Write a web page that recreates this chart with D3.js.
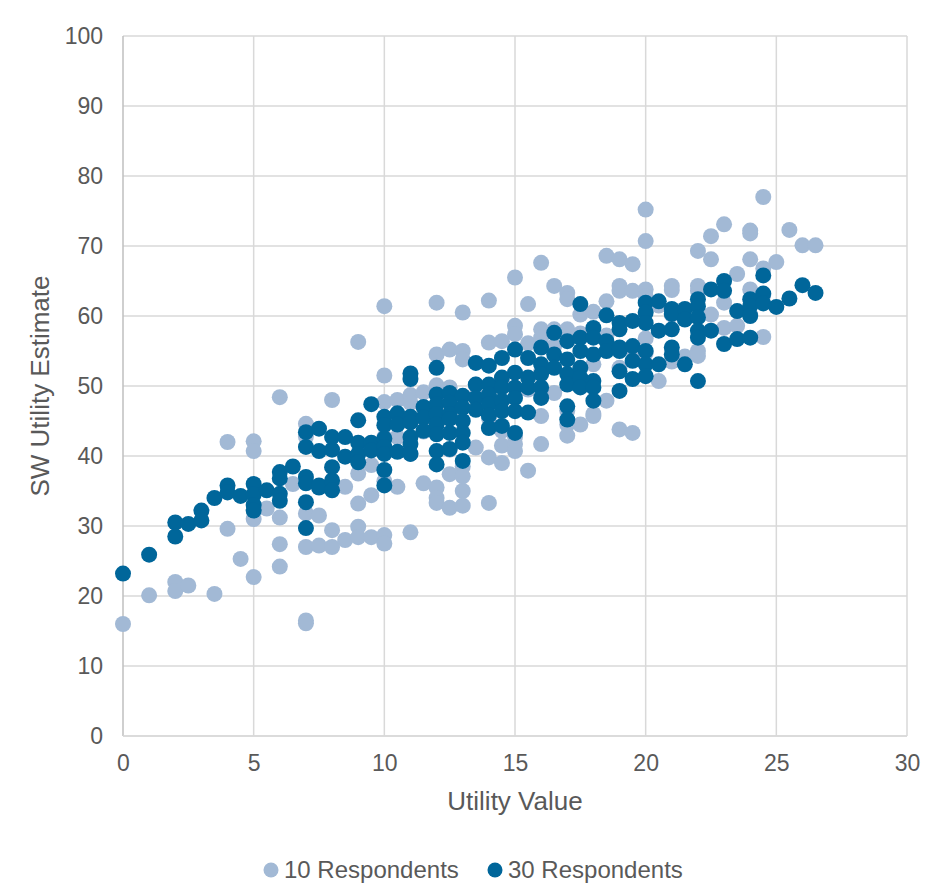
<!DOCTYPE html>
<html>
<head>
<meta charset="utf-8">
<script src="https://cdn.jsdelivr.net/npm/d3@7"></script>
<style>
  body { margin: 0; background: #fff; }
  text { font-family: "Liberation Sans", Arial, sans-serif; fill: #595959; }
</style>
</head>
<body>
<script>
// [utility value, SW utility estimate]
const resp10 = [
  [0,16],[1,20.1],[2,22],[2,20.7],[2.5,21.5],[3.5,20.3],[4,42],[4,29.6],[4.5,25.3],
  [5,42.1],[5,40.7],[5,31],[5,22.7],[5.5,32.5],
  [6,48.4],[6,31.2],[6,27.4],[6,24.2],[6.5,36],
  [7,44.6],[7,42.8],[7,36.5],[7,31.8],[7,27],[7,16.5],[7,16.1],
  [7.5,31.5],[7.5,27.2],[8,48],[8,36.2],[8,29.4],[8,27],[8.5,35.6],[8.5,28],
  [9,56.3],[9,40.3],[9,37.5],[9,33.2],[9,29.9],[9,28.4],[9.5,38.7],[9.5,34.4],[9.5,28.4],
  [10,61.4],[10,51.5],[10,47.7],[10,42.7],[10,36.4],[10,28.7],[10,27.5],
  [10.5,48],[10.5,42.7],[10.5,35.6],[11,48.7],[11,47.6],[11,40.3],[11,29.1],
  [11.5,49.1],[11.5,43.5],[11.5,36.1],
  [12,61.9],[12,54.5],[12,50.1],[12,35.5],[12,34],[12,33.3],
  [12.5,55.2],[12.5,49.8],[12.5,40.9],[12.5,37.4],[12.5,32.6],
  [13,60.5],[13,55],[13,53.8],[13,38.5],[13,37.1],[13,35],[13,32.9],
  [13.5,50.2],[13.5,48.6],[13.5,41.2],
  [14,62.2],[14,56.2],[14,48.2],[14,45.5],[14,39.8],[14,33.3],
  [14.5,56.4],[14.5,50.5],[14.5,43.6],[14.5,41.5],[14.5,39],
  [15,65.5],[15,58.6],[15,57.4],[15,42.7],[15,41.7],[15,40.7],
  [15.5,61.7],[15.5,56.1],[15.5,49.5],[15.5,37.9],
  [16,67.6],[16,58.1],[16,56.9],[16,52],[16,45.7],[16,41.7],
  [16.5,64.3],[16.5,58.1],[16.5,55.7],[16.5,49],
  [17,63.3],[17,62.4],[17,58.1],[17,46.5],[17,44.5],[17,42.9],
  [17.5,60.2],[17.5,57.5],[17.5,44.5],
  [18,60.6],[18,57.7],[18,53.1],[18,46],[18,45.7],
  [18.5,68.6],[18.5,62.1],[18.5,57.2],[18.5,47.9],
  [19,68.1],[19,64.3],[19,63.6],[19,52.6],[19,43.8],
  [19.5,67.4],[19.5,63.6],[19.5,55.3],[19.5,43.3],
  [20,75.2],[20,70.7],[20,63.8],[20,62.8],[20,56.8],[20,54.7],
  [20.5,61.5],[20.5,50.7],[21,64.3],[21,63.7],[21,60.2],[21,53.5],
  [21.5,59.7],[21.5,54.2],
  [22,69.3],[22,64.3],[22,63.6],[22,55],[22,54.3],
  [22.5,71.4],[22.5,68.1],[22.5,60.2],[23,73.1],[23,61.9],[23,58.3],
  [23.5,66],[23.5,58.6],[24,72.2],[24,71.8],[24,68.1],[24,63.8],[24,60.2],
  [24.5,77],[24.5,66.8],[24.5,63],[24.5,57],[25,67.7],[25.5,72.3],[26,70.1],[26.5,70.1]
]

const resp30 = [
  [0,23.2],[1,25.9],[2,30.5],[2,28.5],[2.5,30.3],[3,32.2],[3,30.8],[3.5,34],
  [4,35.8],[4,34.8],[4.5,34.3],[5,36],[5,34.5],[5,33],[5,32.2],[5.5,35.1],
  [6,37.7],[6,36.8],[6,34.6],[6,33.6],[6.5,38.5],
  [7,43.4],[7,41.3],[7,37],[7,36.1],[7,33.4],[7,29.7],
  [7.5,43.9],[7.5,40.7],[7.5,35.5],[7.5,35.8],
  [8,42.7],[8,40.9],[8,38.4],[8,36.5],[8,35.1],[8.5,42.7],[8.5,39.9],
  [9,45.1],[9,41.9],[9,40.3],[9,39.1],[9.5,47.4],[9.5,41.9],[9.5,40.8],
  [10,45.6],[10,44.4],[10,42.5],[10,41.3],[10,40.3],[10,38],[10,35.8],
  [10.5,46.1],[10.5,44.5],[10.5,40.6],
  [11,51.8],[11,51],[11,45.6],[11,44.8],[11,42.7],[11,41.7],[11,40.3],
  [11.5,47],[11.5,45.5],[11.5,43.6],
  [12,52.6],[12,48.8],[12,47.4],[12,46],[12,44.5],[12,43.1],[12,40.7],[12,38.8],
  [12.5,49],[12.5,47.6],[12.5,46],[12.5,45.3],[12.5,43.3],[12.5,41],
  [13,48.6],[13,46.9],[13,45],[13,43.3],[13,41.9],[13,39.3],
  [13.5,53.3],[13.5,50.2],[13.5,48.3],[13.5,46.6],
  [14,52.9],[14,50.2],[14,48.8],[14,47.4],[14,45.8],[14,44],
  [14.5,54],[14.5,51.2],[14.5,49.8],[14.5,47.9],[14.5,46.4],[14.5,44.3],
  [15,55.2],[15,51.9],[15,49.8],[15,48.3],[15,46.4],[15,43.3],
  [15.5,54],[15.5,51.2],[15.5,49.8],[15.5,46.2],
  [16,55.5],[16,53.1],[16,51.7],[16,49.8],[16,48.3],
  [16.5,57.6],[16.5,54.5],[16.5,52.6],
  [17,56.4],[17,53.8],[17,51.7],[17,50.2],[17,47.1],[17,45.2],
  [17.5,61.7],[17.5,56.9],[17.5,55],[17.5,52.6],[17.5,51.2],[17.5,49.8],
  [18,58.3],[18,56.9],[18,54.5],[18,50.7],[18,49.8],[18,47.9],
  [18.5,60.1],[18.5,56.4],[18.5,55],
  [19,59],[19,58.1],[19,55.5],[19,55],[19,52.1],[19,49.3],
  [19.5,59.3],[19.5,55.7],[19.5,53.6],[19.5,51],
  [20,61.9],[20,60.5],[20,59],[20,55],[20,53.1],[20,51.4],
  [20.5,62.1],[20.5,57.9],[20.5,53.1],
  [21,61],[21,60.3],[21,58.1],[21,55.5],[21,54.5],
  [21.5,61],[21.5,59.5],[21.5,53.1],
  [22,62.4],[22,61.4],[22,59.8],[22,57.9],[22,56.9],[22,50.7],
  [22.5,63.8],[22.5,57.9],[23,65],[23,63.6],[23,56],
  [23.5,60.7],[23.5,56.7],[24,62.4],[24,61.4],[24,60],[24,56.9],
  [24.5,65.8],[24.5,63.2],[24.5,61.8],[25,61.3],[25.5,62.5],[26,64.4],[26.5,63.3]
]

const xTicks = [0, 5, 10, 15, 20, 25, 30]
const yTicks = [0, 10, 20, 30, 40, 50, 60, 70, 80, 90, 100]
const seriesNames = ["10 Respondents", "30 Respondents"]
const seriesColors = ["#a2b9d5", "#00669a"]

const width = 926
const height = 885
const margin = {top: 36, right: 19, bottom: 149, left: 123}

const svg = d3.select("body")
  .append("svg")
  .attr("width", width)
  .attr("height", height)

const x = d3.scaleLinear().domain([0, 30]).range([margin.left, width - margin.right])
const y = d3.scaleLinear().domain([0, 100]).range([height - margin.bottom, margin.top])

// gridlines
svg.append("g")
  .selectAll("line")
  .data(yTicks)
  .join("line")
    .attr("x1", x(0)).attr("x2", x(30))
    .attr("y1", d => y(d)).attr("y2", d => y(d))
    .attr("stroke", "#d9d9d9")
    .attr("stroke-width", 1.5)

svg.append("g")
  .selectAll("line")
  .data(xTicks)
  .join("line")
    .attr("x1", d => x(d)).attr("x2", d => x(d))
    .attr("y1", y(0)).attr("y2", y(100))
    .attr("stroke", d => d === 0 ? "#bfbfbf" : "#d9d9d9")
    .attr("stroke-width", 1.5)

// axis base line
svg.append("line")
  .attr("x1", x(0)).attr("x2", x(30))
  .attr("y1", y(0)).attr("y2", y(0))
  .attr("stroke", "#d9d9d9")
  .attr("stroke-width", 1.5)

// tick labels
const xAxis = svg.append("g")
  .attr("transform", `translate(0,${y(0)})`)
  .call(d3.axisBottom(x).tickValues(xTicks).tickSize(0).tickPadding(19))
xAxis.select(".domain").remove()
xAxis.selectAll("text").style("font-size", "23px").attr("fill", "#595959")

const yAxis = svg.append("g")
  .attr("transform", `translate(${x(0)},0)`)
  .call(d3.axisLeft(y).tickValues(yTicks).tickSize(0).tickPadding(20))
yAxis.select(".domain").remove()
yAxis.selectAll("text").style("font-size", "23px").attr("fill", "#595959")

// axis titles
svg.append("text")
  .attr("x", (x(0) + x(30)) / 2)
  .attr("y", 810)
  .attr("text-anchor", "middle")
  .style("font-size", "26px")
  .text("Utility Value")

svg.append("text")
  .attr("transform", `translate(49,${(y(0) + y(100)) / 2}) rotate(-90)`)
  .attr("text-anchor", "middle")
  .style("font-size", "26px")
  .text("SW Utility Estimate")

// points
const series = [resp10, resp30]
series.forEach((data, i) => {
  svg.append("g")
    .selectAll("circle")
    .data(data)
    .join("circle")
      .attr("cx", d => x(d[0]))
      .attr("cy", d => y(d[1]))
      .attr("r", 8)
      .attr("fill", seriesColors[i])
})

// legend
const legendX = [271, 495]
const legend = svg.append("g")
  .selectAll("g")
  .data(seriesNames)
  .join("g")
    .attr("transform", (d, i) => `translate(${legendX[i]},870)`)
legend.append("circle")
  .attr("r", 7.5)
  .attr("fill", (d, i) => seriesColors[i])
legend.append("text")
  .attr("x", 13)
  .attr("dy", "0.35em")
  .style("font-size", "24px")
  .text(d => d)
</script>
</body>
</html>
